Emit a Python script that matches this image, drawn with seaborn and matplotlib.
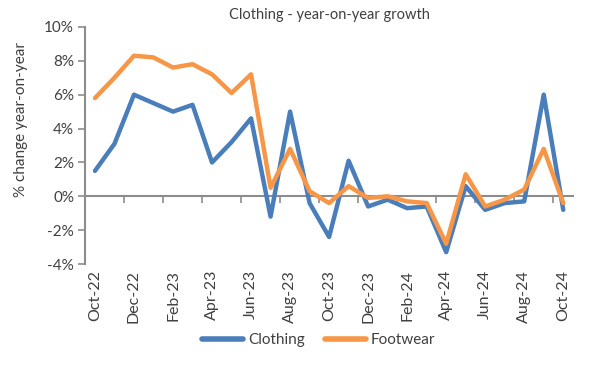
import numpy as np
import pandas as pd
import matplotlib
matplotlib.use("Agg")
import matplotlib.pyplot as plt
import seaborn as sns

# ==========================
# Data
# ==========================

months = [
    "Oct-22", "Nov-22", "Dec-22", "Jan-23", "Feb-23", "Mar-23", "Apr-23",
    "May-23", "Jun-23", "Jul-23", "Aug-23", "Sep-23", "Oct-23", "Nov-23",
    "Dec-23", "Jan-24", "Feb-24", "Mar-24", "Apr-24", "May-24", "Jun-24",
    "Jul-24", "Aug-24", "Sep-24", "Oct-24"
]

clothing = [
    1.5, 3.1, 6.0, 5.5, 5.0, 5.4, 2.0, 3.2, 4.6, -1.2, 5.0, -0.4, -2.4,
    2.1, -0.6, -0.2, -0.7, -0.6, -3.3, 0.6, -0.8, -0.4, -0.3, 6.0, -0.8
]

footwear = [
    5.8, 7.0, 8.3, 8.2, 7.6, 7.8, 7.2, 6.1, 7.2, 0.5, 2.8, 0.3, -0.4,
    0.6, -0.1, 0.0, -0.3, -0.4, -2.8, 1.3, -0.6, -0.2, 0.4, 2.8, -0.4
]

y_ticks = [-4, -2, 0, 2, 4, 6, 8, 10]

df = pd.DataFrame({
    "idx": list(range(len(months))) * 2,
    "value": clothing + footwear,
    "series": ["Clothing"] * len(months) + ["Footwear"] * len(months)
})

# ==========================
# Plot
# ==========================

sns.set_style("white")
plt.rcParams["font.family"] = ["Lato", "DejaVu Sans"]

fig = plt.figure(figsize=(6, 3.74), dpi=100)
ax = fig.add_axes([0.142, 0.294, 0.813, 0.634])

sns.lineplot(
    data=df,
    x="idx",
    y="value",
    hue="series",
    palette={"Clothing": "#4A7EBB", "Footwear": "#F79646"},
    linewidth=3.2,
    ax=ax,
    legend=True
)

grey = "#8c8c8c"
text_col = "#404040"

ax.set_xlim(-0.5, len(months) - 0.5)
ax.set_ylim(y_ticks[0], y_ticks[-1])

ax.set_yticks(y_ticks)
ax.set_yticklabels([f"{v}%" for v in y_ticks])

ax.set_xticks(range(0, len(months), 2))
ax.set_xticklabels(months[::2])
ax.set_xticks(np.arange(-0.5, len(months), 2), minor=True)

for side in ["top", "right"]:
    ax.spines[side].set_visible(False)

ax.spines["left"].set_color(grey)
ax.spines["left"].set_linewidth(1.5)
ax.spines["bottom"].set_position(("data", 0))
ax.spines["bottom"].set_color(grey)
ax.spines["bottom"].set_linewidth(1.5)
ax.spines["bottom"].set_zorder(1)

ax.tick_params(axis="y", which="major", direction="out", length=5,
               width=1.2, color=grey, labelsize=11, pad=3,
               labelcolor=text_col, left=True)
ax.tick_params(axis="x", which="major", length=0, labelsize=11.5,
               pad=53, labelcolor=text_col, labelrotation=90)
ax.tick_params(axis="x", which="minor", direction="out", length=5,
               width=1.2, color=grey, bottom=True)

ax.set_xlabel("")
ax.set_ylabel("% change year-on-year", fontsize=11, color=text_col)
ax.yaxis.set_label_coords(-0.118, 0.61)
ax.set_title("Clothing - year-on-year growth", fontsize=10.5,
             color=text_col, pad=6)

leg = ax.legend(
    loc="center",
    bbox_to_anchor=(0.531, 0.09),
    bbox_transform=fig.transFigure,
    ncol=2,
    frameon=False,
    fontsize=11,
    handlelength=2.7,
    columnspacing=1.3,
    handletextpad=0.3
)
for line in leg.get_lines():
    line.set_linewidth(4)
for text in leg.get_texts():
    text.set_color(text_col)

fig.savefig("out.png", dpi=100)
plt.close()
